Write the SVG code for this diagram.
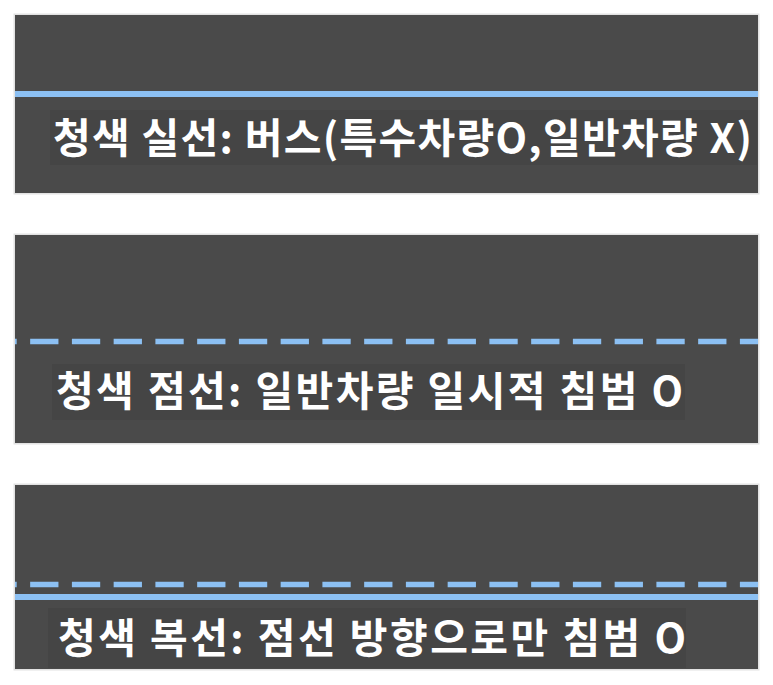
<svg xmlns="http://www.w3.org/2000/svg" width="773" height="685" viewBox="0 0 773 685">
  <style>
    .shadow { fill: #e2e2e2; }
    .band { fill: #4a4a4a; }
    .tbox { fill: #454545; }
    .solid { stroke: #8cc0f3; stroke-width: 6; fill: none; }
    .dash { stroke: #8cc0f3; stroke-width: 5.5; fill: none; stroke-dasharray: 28.3 13.45; stroke-dashoffset: 26.6; }
    .label { font-family: "Noto Sans CJK KR", "Malgun Gothic", sans-serif; font-weight: bold; font-size: 41px; fill: #ffffff; }
  </style>
  <rect x="0" y="0" width="773" height="685" fill="#ffffff"/>

  <g id="lane-solid">
    <rect class="shadow" x="13.5" y="13.5" width="746" height="181"/>
    <rect class="band" x="15" y="15" width="743" height="178"/>
    <rect class="tbox" x="50" y="110" width="707" height="55"/>
  </g>
  <g id="lane-dashed">
    <rect class="shadow" x="13.5" y="233.5" width="746" height="211"/>
    <rect class="band" x="15" y="235" width="743" height="208"/>
    <rect class="tbox" x="52" y="364" width="633" height="56"/>
  </g>
  <g id="lane-double">
    <rect class="shadow" x="13.5" y="483.5" width="746" height="187"/>
    <rect class="band" x="15" y="485" width="743" height="184"/>
    <rect class="tbox" x="48" y="608" width="638" height="60"/>
  </g>

  <g id="connectors">
    <line class="solid" x1="15" y1="94" x2="758" y2="94"/>
    <line class="dash" x1="15" y1="341.5" x2="758" y2="341.5"/>
    <line class="dash" x1="15" y1="584.5" x2="758" y2="584.5"/>
    <line class="solid" x1="15" y1="597" x2="758" y2="597"/>
  </g>

  <g id="labels">
    <text class="label" x="53" y="153" textLength="699" lengthAdjust="spacing">청색 실선: 버스(특수차량O,일반차량 X)</text>
    <text class="label" x="56" y="406" textLength="627" lengthAdjust="spacing">청색 점선: 일반차량 일시적 침범 O</text>
    <text class="label" x="58" y="653" textLength="628" lengthAdjust="spacing">청색 복선: 점선 방향으로만 침범 O</text>
  </g>
</svg>
